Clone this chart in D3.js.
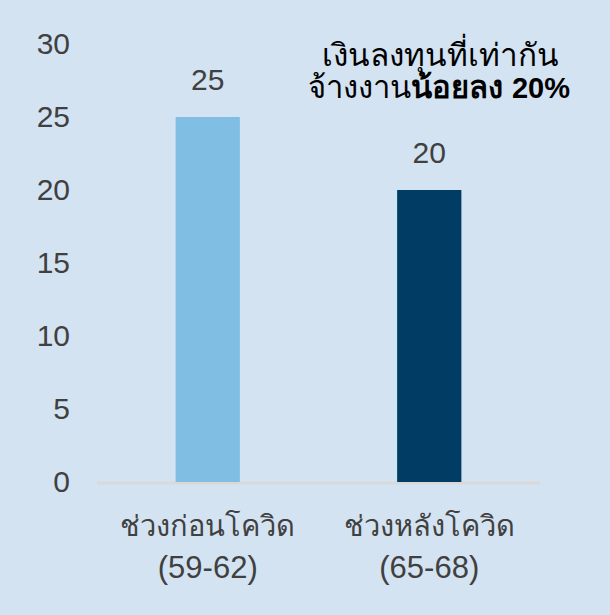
<!DOCTYPE html>
<html lang="th"><head><meta charset="utf-8">
<title>chart</title>
<script src="https://cdn.jsdelivr.net/npm/d3@7"></script>
<style>
  body { margin: 0; background: #d3e3f2; }
  text { font-family: "Liberation Sans", Arial, sans-serif; }
</style>
</head>
<body>
<script>
var categories = [["ช่วงก่อนโควิด", "(59-62)"], ["ช่วงหลังโควิด", "(65-68)"]];
var values = [25, 20];
var barColors = ["#80bfe3", "#003c64"];
var yTicks = [0, 5, 10, 15, 20, 25, 30];

var width = 610, height = 615;

var svg = d3.select("body").append("svg")
    .attr("width", width)
    .attr("height", height);

svg.append("rect").attr("width", width).attr("height", height).attr("fill", "#d3e3f2");

var x = d3.scaleBand().domain([0, 1]).range([97, 540]).paddingInner(0.71).paddingOuter(0.355);
var y = d3.scaleLinear().domain([0, 30]).range([482, 44]);

// y axis: labels only
var yAxis = d3.axisLeft(y).tickValues(yTicks).tickSize(0).tickPadding(0);
var gy = svg.append("g").attr("transform", "translate(70,0)").call(yAxis);
gy.select(".domain").remove();
gy.selectAll("text")
    .attr("fill", "#404040")
    .attr("font-size", 30)
    .attr("font-family", "'Liberation Sans', Arial, sans-serif");

// baseline
svg.append("line")
    .attr("x1", 97).attr("x2", 540)
    .attr("y1", y(0) + 1).attr("y2", y(0) + 1)
    .attr("stroke", "#d9d9d9").attr("stroke-width", 3);

svg.selectAll(".bar").data(values).enter().append("rect")
    .attr("class", "bar")
    .attr("x", function(d, i){ return x(i); })
    .attr("width", x.bandwidth())
    .attr("y", function(d){ return y(d); })
    .attr("height", function(d){ return y(0) - y(d); })
    .attr("fill", function(d, i){ return barColors[i]; });

svg.selectAll(".val").data(values).enter().append("text")
    .attr("class", "val")
    .attr("x", function(d, i){ return x(i) + x.bandwidth() / 2; })
    .attr("y", function(d){ return y(d) - 27; })
    .attr("text-anchor", "middle")
    .attr("font-size", 30)
    .attr("fill", "#404040")
    .text(function(d){ return d; });

var cat = svg.selectAll(".cat").data(categories).enter().append("text")
    .attr("class", "cat")
    .attr("text-anchor", "middle")
    .attr("fill", "#404040")
    .attr("font-family", "'Noto Sans', sans-serif");
cat.each(function(d, i){
  var t = d3.select(this);
  d.forEach(function(line, j){
    t.append("tspan")
      .attr("x", x(i) + x.bandwidth() / 2)
      .attr("y", 536 + j * 42)
      .attr("font-size", j == 0 ? 29 : 31)
      .text(line);
  });
});

// annotation
svg.append("text")
    .attr("x", 559).attr("y", 66)
    .attr("text-anchor", "end")
    .attr("font-size", 31.5)
    .attr("fill", "#000")
    .text("เงินลงทุนที่เท่ากัน");

var note2 = svg.append("text")
    .attr("x", 570).attr("y", 98)
    .attr("text-anchor", "end")
    .attr("font-size", 31)
    .attr("fill", "#000");
note2.append("tspan").text("จ้างงาน");
note2.append("tspan").attr("font-weight", "bold").text("น้อยลง ");
note2.append("tspan").attr("font-weight", "bold").attr("font-size", 29).text("20%");
</script>
</body></html>
